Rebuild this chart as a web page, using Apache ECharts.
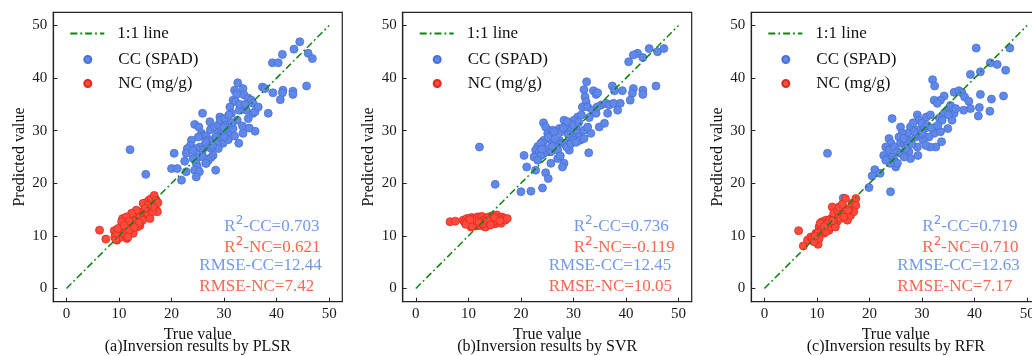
<!DOCTYPE html>
<html>
<head>
<meta charset="utf-8">
<script src="https://cdn.jsdelivr.net/npm/echarts@6/dist/echarts.min.js"></script>
<style>
html,body{margin:0;padding:0;background:#fff;}
#chart{width:1032px;height:356px;}
</style>
</head>
<body>
<div id="chart"></div>
<script>
// ---------- data ----------
const ticks = [0, 10, 20, 30, 40, 50];
const oneToOne = [[0, 0], [50, 50]];
const panelTitles = ['(a)Inversion results by PLSR', '(b)Inversion results by SVR', '(c)Inversion results by RFR'];
const r2CC = ['0.703', '0.736', '0.719'];
const r2NC = ['0.621', '-0.119', '0.710'];
const rmseCC = ['12.44', '12.45', '12.63'];
const rmseNC = ['7.42', '10.05', '7.17'];

const plsrCC = [
 [44.4,46.9],[43.3,45.5],[41.1,44.5],[39.2,42.9],[40.3,42.9],[46.0,44.7],[46.8,43.7],[45.7,38.5],
 [43.1,37.5],[43.1,36.9],[41.2,37.7],[41.1,37.2],[39.3,37.2],[40.7,35.9],[38.4,33.3],[37.3,38.3],
 [37.8,38.0],[32.6,39.1],[32.0,37.7],[32.4,36.9],[33.6,38.0],[33.8,36.8],[34.6,36.2],[35.2,35.8],
 [35.5,35.2],[31.7,35.8],[32.2,35.5],[35.5,33.3],[35.9,33.6],[34.2,33.9],[34.6,32.3],[32.9,33.9],
 [31.1,34.5],[31.4,33.3],[32.5,32.0],[33.5,30.9],[34.8,30.5],[35.9,29.9],[33.6,29.5],[32.8,27.6],
 [25.9,33.3],[24.4,31.2],[25.2,30.7],[25.7,29.5],[26.0,29.0],[27.3,31.7],[27.4,30.2],[28.2,30.7],
 [28.9,31.1],[29.2,32.6],[29.3,32.0],[30.1,32.3],[28.9,29.5],[29.5,29.2],[30.5,29.8],[31.1,29.2],
 [31.7,30.4],[26.6,29.0],[26.8,28.2],[25.1,28.8],[27.9,28.2],[28.4,28.8],[29.5,28.2],[29.8,27.6],
 [30.8,28.3],[23.8,28.2],[23.6,27.2],[25.4,26.9],[25.9,26.3],[27.0,26.9],[27.6,26.6],[28.6,27.6],
 [28.9,26.6],[27.9,25.3],[27.5,24.9],[23.0,26.6],[22.8,25.7],[24.7,26.6],[24.1,26.2],[25.1,25.0],
 [26.0,25.0],[27.0,24.4],[26.6,23.8],[22.5,24.2],[24.1,24.7],[24.7,23.8],[24.9,23.1],[24.4,22.5],
 [25.3,22.2],[26.5,23.8],[22.8,22.2],[24.7,21.2],[21.9,20.6],[20.0,22.8],[21.1,22.8],[20.5,25.7],
 [28.4,22.5],[12.1,26.4],[15.1,21.7],[30.3,31.0],[31.5,31.5],[29.9,30.6],[30.9,33.0],[33.0,35.0],
 [26.5,27.8],[27.8,27.2],[30.0,28.9],[32.0,29.0],[36.5,34.5],[34.0,35.0]
];
const plsrNC = [
 [6.3,11.1],[7.5,9.4],[9.1,11.0],[9.2,9.8],[9.6,9.2],[10.0,10.5],[10.2,9.7],[10.7,13.3],[10.9,12.5],
 [10.5,11.7],[11.1,11.1],[11.3,10.1],[11.5,9.5],[11.9,13.0],[12.2,12.2],[12.4,11.1],[12.7,10.5],
 [13.0,14.3],[13.3,13.6],[13.6,13.0],[14.0,12.0],[14.3,14.6],[14.7,13.9],[15.2,14.9],[15.5,14.3],
 [15.9,13.3],[15.1,16.3],[15.7,16.8],[16.2,17.1],[16.7,17.7],[17.1,16.8],[17.4,16.3],[17.1,14.9],
 [17.3,14.6],[16.4,14.6],[11.5,11.7],[9.4,9.3],[10.3,11.1],[10.9,10.5],[11.9,11.1],[12.7,13.0],
 [13.3,14.9],[14.0,13.6],[12.4,14.3],[14.5,13.0],[13.5,11.7],[14.6,16.2],[16.5,15.5],[15.5,15.8],
 [13.0,12.7],[11.4,13.6],[10.5,12.7],[9.6,10.5],[11.7,9.8],[9.8,11.4],[12.0,12.8],[13.8,12.5],
 [11.0,12.0],[12.9,11.6],[15.0,15.2]
];
const svrCC = [
 [44.4,45.6],[47.2,45.6],[46.0,45.0],[42.2,44.7],[41.4,44.4],[40.5,43.1],[43.2,43.9],[45.7,38.5],
 [43.2,37.7],[43.2,36.9],[41.4,38.0],[41.2,37.1],[40.8,35.8],[39.3,37.6],[37.4,38.5],[37.8,37.6],
 [38.9,35.2],[38.4,33.9],[32.5,39.3],[32.0,37.8],[32.2,36.4],[32.4,35.5],[33.8,37.6],[34.3,36.9],
 [34.6,37.2],[31.7,34.5],[32.7,34.5],[33.6,33.9],[34.3,33.3],[35.3,34.9],[36.2,35.2],[36.5,33.3],
 [34.9,30.7],[35.9,31.4],[36.8,34.9],[37.6,35.2],[33.3,29.5],[32.9,25.8],[30.8,32.6],[31.5,33.0],
 [30.1,32.0],[30.5,30.7],[29.2,31.4],[29.5,30.1],[28.2,32.0],[28.9,31.7],[27.3,30.4],[27.6,29.8],
 [30.8,29.5],[31.1,28.8],[29.8,28.8],[30.0,28.2],[28.9,27.6],[29.2,26.3],[24.3,31.5],[24.7,30.7],
 [25.1,29.5],[26.0,30.1],[24.1,27.9],[24.4,28.2],[23.2,27.0],[23.8,27.6],[25.7,28.2],[26.3,27.9],
 [27.3,28.2],[27.9,27.6],[26.6,26.9],[27.0,26.3],[25.1,26.6],[25.7,26.0],[22.8,26.3],[23.5,26.0],
 [24.4,25.7],[23.8,25.3],[22.5,25.0],[23.2,24.4],[27.0,24.7],[27.5,25.2],[28.4,27.6],[28.7,26.9],
 [28.2,23.8],[27.9,23.1],[20.6,25.3],[21.1,23.1],[22.8,22.5],[24.7,22.0],[25.2,20.9],[25.7,23.8],
 [24.1,19.1],[20.0,18.4],[21.9,18.5],[12.1,26.9],[15.1,19.8],[26.3,29.8],[25.2,28.8],[32.0,30.1],
 [32.7,30.7],[31.3,28.2],[32.0,28.5],[30.0,31.0],[31.0,31.6],[29.0,29.3],[26.5,28.5],[28.0,30.5],
 [33.0,32.5],[34.5,34.5],[26.0,27.0],[24.0,26.5],[29.5,27.5],[30.5,27.8]
];
const svrNC = [
 [6.5,12.7],[7.5,12.8],[9.0,13.0],[9.3,12.6],[9.7,13.3],[10.0,12.9],[10.2,12.4],[10.5,11.7],[10.6,13.5],
 [10.9,12.2],[11.1,13.3],[11.3,12.7],[11.5,11.9],[11.7,13.6],[11.9,12.4],[12.1,13.6],[12.2,12.0],
 [12.4,12.9],[12.6,13.7],[12.9,13.0],[13.0,11.8],[13.1,12.4],[13.3,11.7],[13.5,13.4],[13.8,13.6],
 [14.0,12.6],[14.3,12.7],[14.5,13.8],[14.7,13.2],[14.9,13.0],[15.1,12.3],[15.3,13.6],[15.4,14.0],
 [15.6,12.7],[15.9,13.3],[16.2,12.4],[16.4,13.6],[16.7,13.3],[17.0,13.0],[17.4,13.3],[9.5,12.2],
 [10.8,11.8],[11.6,12.8],[12.8,12.3],[13.6,12.9],[14.2,12.1],[15.0,13.5],[16.0,12.9],[10.3,13.1],
 [12.0,12.5]
];
const rfrCC = [
 [40.3,45.7],[46.7,45.7],[43.0,42.9],[44.3,42.6],[41.1,41.2],[39.2,40.7],[45.9,41.5],[32.0,39.7],
 [32.4,38.5],[41.1,36.9],[45.5,36.6],[43.2,36.0],[36.1,37.3],[37.0,37.6],[37.6,37.2],[38.1,36.4],
 [38.9,35.6],[39.2,34.2],[37.9,33.9],[40.9,34.4],[40.7,32.8],[42.9,33.7],[34.2,36.6],[33.5,35.8],
 [32.3,35.8],[32.9,35.2],[34.8,33.9],[34.2,33.3],[36.1,33.3],[35.4,34.8],[36.4,34.2],[34.9,30.4],
 [35.7,32.0],[33.3,32.4],[33.8,32.0],[32.6,30.7],[32.3,29.5],[33.5,29.8],[33.7,27.9],[32.6,26.9],
 [30.8,32.6],[31.6,33.0],[29.1,33.0],[29.4,32.0],[30.0,31.4],[30.5,30.4],[31.3,28.8],[31.5,26.9],
 [29.1,30.1],[28.8,28.8],[27.8,30.7],[28.5,29.8],[27.2,29.5],[27.5,28.2],[29.1,26.9],[29.2,25.3],
 [27.5,26.0],[27.8,24.7],[25.9,30.7],[26.2,29.5],[24.3,32.3],[25.6,28.8],[25.9,27.6],[23.7,28.5],
 [24.1,27.6],[23.1,26.9],[23.7,26.3],[24.7,26.9],[25.3,26.0],[22.7,25.3],[23.4,24.7],[24.3,25.0],
 [24.7,24.4],[25.9,25.7],[26.6,25.0],[25.0,23.1],[25.3,23.8],[23.9,23.8],[23.1,24.4],[21.0,22.6],
 [22.0,21.9],[20.5,21.4],[19.9,19.2],[24.0,18.4],[12.0,25.7],[26.6,27.6],[26.9,26.6],[30.2,28.2],
 [30.7,27.2],[29.7,29.2],[15.0,17.2],[31.0,31.0],[30.0,29.5],[28.0,27.5],[27.0,28.0],[31.8,30.5],
 [33.0,31.0],[35.0,33.0],[26.5,28.5],[28.3,31.5]
];
const rfrNC = [
 [6.5,11.0],[7.4,8.1],[8.2,9.2],[8.8,9.8],[10.2,8.4],[9.8,10.5],[10.4,11.7],[10.7,11.1],[11.0,12.7],
 [11.3,10.5],[12.0,11.7],[12.3,11.1],[12.7,13.3],[12.9,15.5],[13.2,14.3],[13.8,12.7],[14.2,13.6],
 [14.8,14.3],[15.1,15.5],[15.4,17.1],[15.8,13.0],[16.4,13.9],[16.7,16.2],[17.4,17.1],[17.4,15.8],
 [17.0,14.6],[16.1,14.9],[11.7,13.0],[11.0,11.1],[9.1,9.5],[10.1,10.5],[13.2,12.2],[12.3,13.0],
 [13.9,14.9],[14.5,13.3],[15.1,13.6],[15.8,14.9],[11.7,10.8],[12.6,11.7],[10.4,9.5],[9.4,8.9],
 [14.2,15.5],[13.5,11.7],[14.8,16.0],[10.6,12.4],[12.0,12.3],[13.0,12.9],[11.4,11.8],[9.7,10.0]
];

const ccSets = [plsrCC, svrCC, rfrCC];
const ncSets = [plsrNC, svrNC, rfrNC];

// ---------- layout / style ----------
const FONT = '"Liberation Serif", "Times New Roman", serif';
const gridLefts = [53.3, 402.7, 751.3];
const GW = 289, GTOP = 12.3, GH = 289.4;
const CC_FILL = '#5f88e8', CC_EDGE = '#4a70d6';
const NC_FILL = '#ff4a3e', NC_EDGE = '#e0281c';
const CC_TXT = '#7099ec', NC_TXT = '#fb6650';

const grids = [], xAxes = [], yAxes = [], series = [], legends = [], graphics = [];

gridLefts.forEach((gl, i) => {
  grids.push({ left: gl, top: GTOP, width: GW, height: GH, show: true,
    borderColor: '#222', borderWidth: 1.2, backgroundColor: 'transparent',
    containLabel: false, outerBoundsMode: 'none' });
  const axisCommon = {
    gridIndex: i, type: 'value', min: -2.5, max: 52.5,
    splitLine: { show: false },
    axisLine: { show: true, onZero: false, lineStyle: { color: '#222', width: 1.2 } },
    axisTick: { show: true, inside: true, length: 4, customValues: ticks, lineStyle: { color: '#222', width: 1 } },
    axisLabel: { customValues: ticks, color: '#1a1a1a', fontSize: 15, fontFamily: FONT },
    nameLocation: 'middle',
    nameTextStyle: { color: '#111', fontSize: 16, fontFamily: FONT }
  };
  xAxes.push(Object.assign({}, axisCommon, {
    name: 'True value', nameGap: 21,
    axisLabel: Object.assign({}, axisCommon.axisLabel, { margin: 5 })
  }));
  yAxes.push(Object.assign({}, axisCommon, {
    name: 'Predicted value', nameGap: 26,
    axisLabel: Object.assign({}, axisCommon.axisLabel, { margin: 6 })
  }));

  series.push({
    name: 'CC (SPAD)', type: 'scatter', xAxisIndex: i, yAxisIndex: i, z: 2,
    symbol: 'circle', symbolSize: 8, data: ccSets[i],
    itemStyle: { color: CC_FILL, borderColor: CC_EDGE, borderWidth: 0.8, opacity: 1 }
  });
  series.push({
    name: 'NC (mg/g)', type: 'scatter', xAxisIndex: i, yAxisIndex: i, z: 3,
    symbol: 'circle', symbolSize: 8, data: ncSets[i],
    itemStyle: { color: NC_FILL, borderColor: NC_EDGE, borderWidth: 0.8, opacity: 1 }
  });
  series.push({
    name: '1:1 line', type: 'line', xAxisIndex: i, yAxisIndex: i, z: 4,
    data: oneToOne, symbol: 'none', silent: true,
    lineStyle: { color: '#0c850c', width: 1.5, type: [7, 3, 1.8, 3] },
    itemStyle: { color: '#0c850c' }
  });

  legends.push({
    data: ['1:1 line'], left: gl + 16, top: 25, selectedMode: false,
    itemWidth: 34, itemHeight: 12, padding: 0,
    itemStyle: { opacity: 0 },
    textStyle: { fontSize: 17, fontFamily: FONT, color: '#111', padding: [0, 0, 0, 8] }
  });
  legends.push({
    data: ['CC (SPAD)', 'NC (mg/g)'], orient: 'vertical', left: gl + 30, top: 51,
    selectedMode: false, itemWidth: 7, itemHeight: 7, itemGap: 7, padding: 0,
    textStyle: { fontSize: 17, lineHeight: 17, fontFamily: FONT, color: '#111', padding: [0, 0, 0, 22] }
  });

  const rich = (col) => ({
    t: { fontSize: 17, fontFamily: FONT, color: col, lineHeight: 20, verticalAlign: 'bottom' },
    s: { fontSize: 12, fontFamily: '"DejaVu Sans", sans-serif', color: col, lineHeight: 20, verticalAlign: 'top', padding: [0, 0, 0, 0] }
  });
  const annos = [
    { x: gl + 171, y: 225, text: '{t|R}{s|2}{t|-CC=' + r2CC[i] + '}', col: CC_TXT },
    { x: gl + 171, y: 246, text: '{t|R}{s|2}{t|-NC=' + r2NC[i] + '}', col: NC_TXT },
    { x: gl + 146, y: 267, text: '{t|RMSE-CC=' + rmseCC[i] + '}', col: CC_TXT },
    { x: gl + 146, y: 288, text: '{t|RMSE-NC=' + rmseNC[i] + '}', col: NC_TXT }
  ];
  annos.forEach(a => graphics.push({
    type: 'text', left: a.x, top: a.y - 10, z: 10,
    style: { text: a.text, rich: rich(a.col), fontSize: 17, fontFamily: FONT, fill: a.col }
  }));
  graphics.push({
    type: 'text', x: gl + GW / 2, y: 347, z: 10,
    style: { text: panelTitles[i], fontSize: 16, fontFamily: FONT, fill: '#111', align: 'center', verticalAlign: 'middle' }
  });
});

const chart = echarts.init(document.getElementById('chart'), null, { renderer: 'canvas' });
chart.setOption({
  animation: false,
  backgroundColor: '#fff',
  grid: grids, xAxis: xAxes, yAxis: yAxes, series: series, legend: legends,
  graphic: graphics
});
</script>
</body>
</html>
